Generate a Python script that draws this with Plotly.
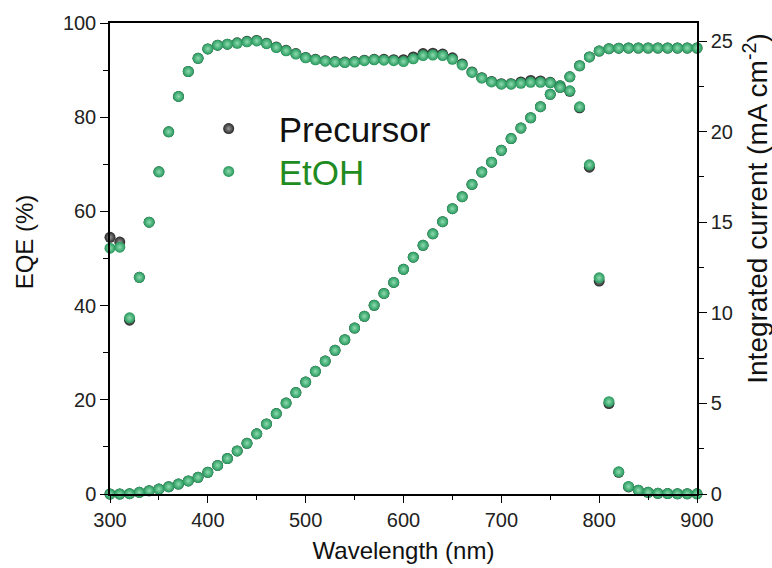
import plotly.graph_objects as go

# Wavelength grid (nm)
wavelength = list(range(300, 901, 10))

# External quantum efficiency (%)
eqe_precursor = [54.5, 53.5, 36.9, 46.0, 57.7, 68.4, 76.9, 84.4, 89.7, 92.5,
                 94.5, 95.3, 95.5, 95.8, 96.1, 96.3, 95.7, 94.9, 94.2, 93.5,
                 92.7, 92.3, 92.0, 91.8, 91.7, 91.8, 92.1, 92.3, 92.3, 92.2,
                 92.2, 92.8, 93.5, 93.6, 93.4, 92.6, 91.3, 89.6, 88.4, 87.6,
                 87.1, 87.1, 87.5, 87.8, 87.7, 87.4, 86.7, 85.5, 82.0, 69.4,
                 45.2, 19.2, 4.6, 1.5, 0.8, 0.35, 0.15, 0.1, 0.05, 0.05, 0.03]
eqe_etoh = [52.2, 52.4, 37.4, 46.0, 57.7, 68.4, 76.9, 84.4, 89.7, 92.5,
            94.5, 95.3, 95.5, 95.7, 96.0, 96.2, 95.6, 94.8, 94.1, 93.4,
            92.6, 92.2, 91.9, 91.7, 91.6, 91.7, 92.0, 92.2, 92.1, 92.0,
            91.8, 92.4, 93.1, 93.2, 93.1, 92.3, 91.1, 89.5, 88.3, 87.5,
            87.0, 87.0, 87.2, 87.4, 87.4, 87.3, 86.7, 85.6, 82.2, 69.9,
            45.9, 19.6, 4.7, 1.6, 0.8, 0.35, 0.15, 0.1, 0.05, 0.05, 0.03]

# Integrated short-circuit current (mA cm^-2)
jsc_precursor = [0.0, 0.0, 0.02, 0.09, 0.18, 0.27, 0.40, 0.55, 0.72, 0.92,
                 1.20, 1.58, 1.96, 2.38, 2.80, 3.32, 3.87, 4.44, 5.02, 5.60,
                 6.18, 6.77, 7.34, 7.93, 8.52, 9.16, 9.81, 10.42, 11.07, 11.68,
                 12.40, 13.07, 13.73, 14.36, 15.03, 15.75, 16.41, 17.09, 17.77, 18.32,
                 18.97, 19.62, 20.20, 20.77, 21.38, 22.06, 22.45, 23.03, 23.64, 24.13,
                 24.45, 24.58, 24.61, 24.62, 24.62, 24.62, 24.62, 24.62, 24.62, 24.62, 24.62]
jsc_etoh = [0.0, 0.0, 0.02, 0.09, 0.18, 0.27, 0.40, 0.55, 0.72, 0.92,
            1.20, 1.58, 1.96, 2.38, 2.80, 3.32, 3.87, 4.44, 5.02, 5.60,
            6.18, 6.77, 7.34, 7.93, 8.52, 9.16, 9.81, 10.42, 11.07, 11.68,
            12.40, 13.07, 13.73, 14.36, 15.03, 15.75, 16.41, 17.09, 17.77, 18.32,
            18.97, 19.62, 20.20, 20.77, 21.38, 22.06, 22.45, 23.03, 23.64, 24.13,
            24.45, 24.58, 24.61, 24.62, 24.62, 24.62, 24.62, 24.62, 24.62, 24.62, 24.62]

FONT = "Liberation Sans, Arial, sans-serif"
GREEN_TEXT = "#1f8c22"


def sphere(edge, center):
    return dict(size=11, color=edge, line=dict(width=0),
                gradient=dict(type="radial", color=center))


black_ball = sphere("#262626", "#9a9a9a")
green_ball = sphere("#24965a", "#8edcb0")

fig = go.Figure()
fig.add_trace(go.Scatter(x=wavelength, y=eqe_precursor, mode="markers",
                         marker=black_ball, name="Precursor",
                         legend="legend", cliponaxis=False))
fig.add_trace(go.Scatter(x=wavelength, y=jsc_precursor, mode="markers",
                         marker=black_ball, name="Precursor", yaxis="y2",
                         showlegend=False, cliponaxis=False))
fig.add_trace(go.Scatter(x=wavelength, y=eqe_etoh, mode="markers",
                         marker=green_ball,
                         name=f'<span style="color:{GREEN_TEXT}">EtOH</span>',
                         legend="legend2", cliponaxis=False))
fig.add_trace(go.Scatter(x=wavelength, y=jsc_etoh, mode="markers",
                         marker=green_ball, name="EtOH", yaxis="y2",
                         showlegend=False, cliponaxis=False))

axis_common = dict(showline=True, linecolor="black", linewidth=1.5,
                   ticks="outside", tickcolor="black", tickwidth=1.3,
                   showgrid=False, zeroline=False, automargin=False,
                   tickfont=dict(family=FONT, size=20, color="#222"))

legend_common = dict(xanchor="left", yanchor="top",
                     bgcolor="rgba(0,0,0,0)", itemwidth=90,
                     font=dict(family=FONT, size=35, color="#111"))

fig.update_layout(
    width=772, height=568,
    margin=dict(l=110, r=75, t=23, b=74),
    paper_bgcolor="white", plot_bgcolor="white",
    font=dict(family=FONT, color="#111"),
    xaxis=dict(range=[300, 900], dtick=100, ticklen=7, mirror=True,
               minor=dict(dtick=50, ticklen=4, ticks="outside",
                          tickcolor="black", tickwidth=1.3),
               title=dict(text="Wavelength (nm)",
                          font=dict(family=FONT, size=24, color="#111"),
                          standoff=12),
               **axis_common),
    yaxis=dict(range=[0, 100], dtick=20, ticklen=8,
               minor=dict(dtick=10, ticklen=5, ticks="outside",
                          tickcolor="black", tickwidth=1.3),
               **axis_common),
    yaxis2=dict(range=[0, 26], tick0=0, dtick=5, ticklen=8,
                overlaying="y", side="right",
                minor=dict(dtick=2.5, ticklen=5, ticks="outside",
                           tickcolor="black", tickwidth=1.3),
                **axis_common),
    legend=dict(x=0.117, y=0.838, **legend_common),
    legend2=dict(x=0.117, y=0.747, **legend_common),
    annotations=[
        dict(text="EQE (%)", textangle=-90, xref="paper", yref="paper",
             x=-0.146, y=0.535, xanchor="center", yanchor="middle",
             showarrow=False, font=dict(family=FONT, size=24, color="#111")),
        dict(text="Integrated current (mA cm<sup>-2</sup>)", textangle=-90,
             xref="paper", yref="paper", x=1.1, y=0.605,
             xanchor="center", yanchor="middle", showarrow=False,
             font=dict(family=FONT, size=28, color="#111")),
    ],
)

fig.write_html("out.html")
